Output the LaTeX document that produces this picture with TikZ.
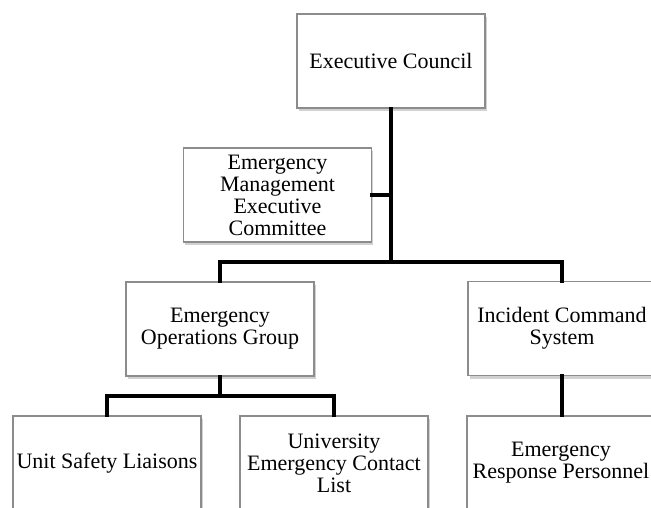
\documentclass[tikz,border=0pt]{standalone}
\usepackage{fontspec}
\setmainfont{Liberation Serif}
\usetikzlibrary{shadows}
\begin{document}
\begin{tikzpicture}[x=1pt,y=-1pt,
  orgbox/.style={draw=black!45, line width=1.1pt, fill=white, minimum width=188pt, minimum height=94pt,
    inner sep=0pt, align=center, font=\fontsize{22}{22}\selectfont,
    drop shadow={shadow xshift=1.5pt, shadow yshift=-3pt, opacity=0.3, fill=black!60}},
  conn/.style={line width=4pt, line join=miter, line cap=rect}]
\useasboundingbox (0,0) rectangle (651,508);
\begin{scope}
\clip (0,0) rectangle (651,508);
\node[orgbox] (ec) at (391,61) {Executive Council};
\node[orgbox] (emec) at (277.5,195) {Emergency\\Management\\Executive\\Committee};
\node[orgbox] (eog) at (220,329) {Emergency\\Operations Group};
\node[orgbox] (ics) at (562,328.5) {Incident Command\\System};
\node[orgbox] (usl) at (107,463) {Unit Safety Liaisons};
\node[orgbox] (uecl) at (334,463) {University\\Emergency Contact\\List};
\node[orgbox] (erp) at (561,463) {Emergency\\Response Personnel};
\coordinate (j1) at (391,262);
\coordinate (j2) at (220,396);
\draw[conn] (ec.south -| j1) -- (j1);
\draw[conn] (emec.east) -- (emec.east -| j1);
\draw[conn] (eog.north) -- (eog.north |- j1) -- (ics.north |- j1) -- (ics.north);
\draw[conn] (eog.south) -- (j2);
\draw[conn] (usl.north) -- (usl.north |- j2) -- (uecl.north |- j2) -- (uecl.north);
\draw[conn] (ics.south) -- (ics.south |- erp.north);
\end{scope}
\end{tikzpicture}
\end{document}
